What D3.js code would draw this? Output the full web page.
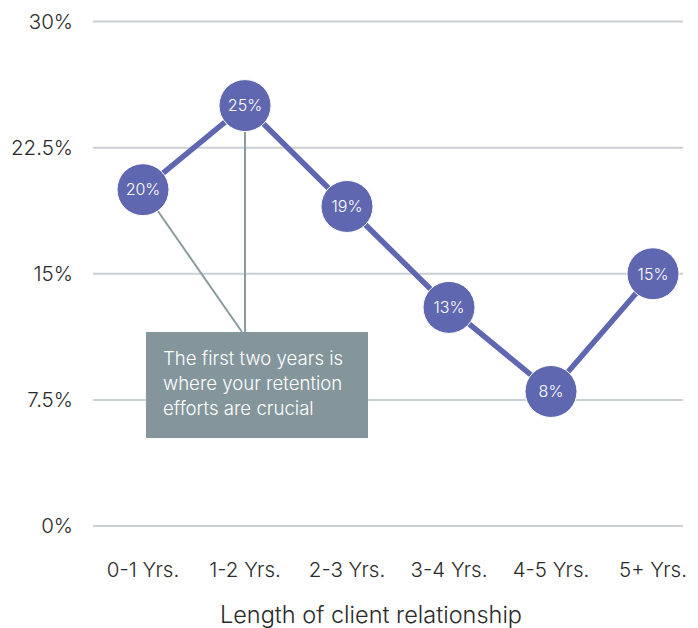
<!DOCTYPE html>
<html>
<head>
<meta charset="utf-8">
<script src="https://cdn.jsdelivr.net/npm/d3@7"></script>
<style>
  html, body { margin: 0; padding: 0; background: #fff; }
  svg { display: block; font-family: Inter, Roboto, "Noto Sans", sans-serif; font-weight: 300; }
</style>
</head>
<body>
<svg id="chart" width="698" height="628"></svg>
<script>
// Share of clients by length of relationship
const categories = ["0-1 Yrs.", "1-2 Yrs.", "2-3 Yrs.", "3-4 Yrs.", "4-5 Yrs.", "5+ Yrs."];
const values = [20, 25, 19, 13, 8, 15];
const yTicks = [0, 7.5, 15, 22.5, 30];
const tickLabels = ["0%", "7.5%", "15%", "22.5%", "30%"];
const xTitle = "Length of client relationship";
const noteLines = ["The first two years is", "where your retention", "efforts are crucial"];

const svg = d3.select("#chart");
const lineColor = "#5f67b0";
const gridColor = "#cacfd4";
const noteColor = "#84969c";

const x = d3.scaleBand().domain(categories).range([92, 704]);
const cx = d => x(d) + x.bandwidth() / 2;
const y = d3.scaleLinear().domain([0, 30]).range([526, 21.5]);

// horizontal gridlines
svg.append("g").selectAll("line").data(yTicks).join("line")
  .attr("x1", 93).attr("x2", 683)
  .attr("y1", d => y(d)).attr("y2", d => y(d))
  .attr("stroke", gridColor).attr("stroke-width", 2);

// y tick labels
svg.append("g").selectAll("text").data(yTicks).join("text")
  .attr("x", 73).attr("y", d => y(d))
  .attr("dy", "0.36em")
  .attr("text-anchor", "end")
  .attr("font-size", 20.5)
  .attr("fill", "#2a2a2a")
  .text((d, i) => tickLabels[i]);

// x category labels
svg.append("g").selectAll("text").data(categories).join("text")
  .attr("x", d => cx(d)).attr("y", 577)
  .attr("text-anchor", "middle")
  .attr("font-size", 20.5)
  .attr("fill", "#2a2a2a")
  .text(d => d);

// x axis title
svg.append("text")
  .attr("x", 371).attr("y", 623)
  .attr("text-anchor", "middle")
  .attr("font-size", 23.5)
  .attr("fill", "#2a2a2a")
  .text(xTitle);

// annotation connectors
const r = 26;
const p0 = [cx(categories[0]), y(values[0])];
const p1 = [cx(categories[1]), y(values[1])];
const boxTop = 332;
const target = [242, boxTop];
const ang = Math.atan2(target[1] - p0[1], target[0] - p0[0]);
const conn = svg.append("g").attr("stroke", "#8a9ba0").attr("stroke-width", 2);
conn.append("line")
  .attr("x1", p0[0] + r * Math.cos(ang)).attr("y1", p0[1] + r * Math.sin(ang))
  .attr("x2", target[0]).attr("y2", target[1]);
conn.append("line")
  .attr("x1", p1[0]).attr("y1", p1[1] + r)
  .attr("x2", p1[0]).attr("y2", boxTop);

// annotation box
svg.append("rect")
  .attr("x", 146).attr("y", boxTop).attr("width", 222).attr("height", 106)
  .attr("fill", noteColor);
svg.append("g").selectAll("text").data(noteLines).join("text")
  .attr("x", 163).attr("y", (d, i) => 365 + i * 25)
  .attr("font-size", 18.6)
  .attr("fill", "#ffffff")
  .text(d => d);

// series line
const line = d3.line().x((d, i) => cx(categories[i])).y(d => y(d));
svg.append("path")
  .datum(values)
  .attr("d", line)
  .attr("fill", "none")
  .attr("stroke", lineColor)
  .attr("stroke-width", 5.5)
  .attr("stroke-linejoin", "round");

// point markers with value labels
const pts = svg.append("g").selectAll("g").data(values).join("g")
  .attr("transform", (d, i) => `translate(${cx(categories[i])},${y(d)})`);
pts.append("circle")
  .attr("r", r)
  .attr("fill", lineColor)
  .attr("stroke", "#ffffff")
  .attr("stroke-width", 1);
pts.append("text")
  .attr("text-anchor", "middle")
  .attr("dy", "0.36em")
  .attr("font-size", 16)
  .attr("fill", "#ffffff")
  .text(d => d + "%");
</script>
</body>
</html>
